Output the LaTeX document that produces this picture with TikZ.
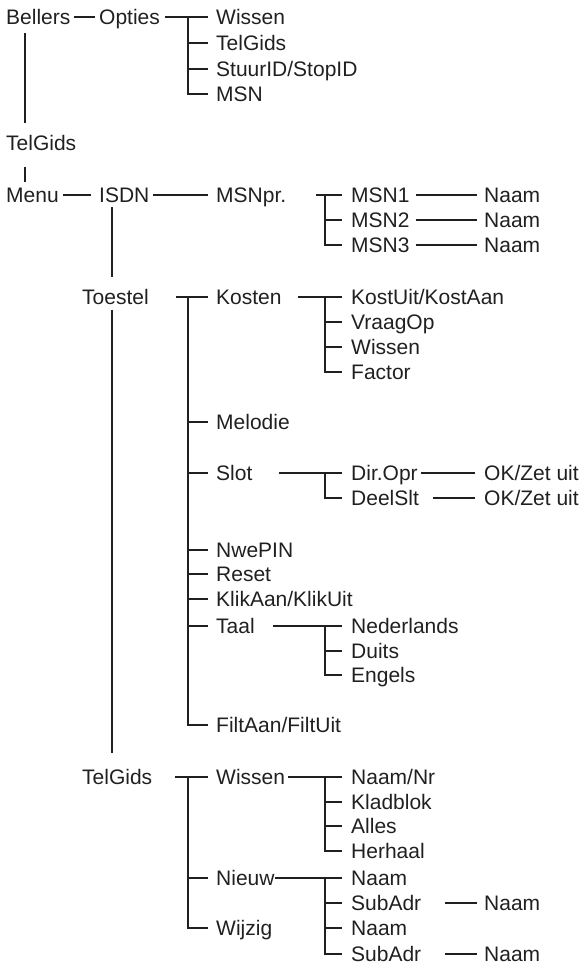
\documentclass[tikz,border=0pt]{standalone}
\usepackage{fontspec}
\setmainfont{Liberation Sans}
\definecolor{inkt}{HTML}{202020}
\tikzset{
  item/.style={anchor=west, inner sep=0pt, text height=15pt, text depth=0pt, text=inkt},
  lijn/.style={draw=inkt, line width=1.8pt},
  tak/.style={lijn, shorten >=8pt},
}
\begin{document}
\begin{tikzpicture}[x=1pt, y=-1pt, font=\fontsize{21}{25}\selectfont]
  \useasboundingbox (0,0) rectangle (582,970);
  % Bellers / Opties
  \node[item] (bellers) at (6,17) {Bellers};
  \node[item] (opties) at (99,17) {Opties};
  \node[item] (oWissen) at (216,17) {Wissen};
  \node[item] (oTelGids) at (216,43) {TelGids};
  \node[item] (oStuur) at (216,69) {StuurID/StopID};
  \node[item] (oMsn) at (216,94) {MSN};
  \node[item] (telGids) at (6,143) {TelGids};
  % Menu / ISDN
  \node[item] (menu) at (6,195) {Menu};
  \node[item] (isdn) at (99,195) {ISDN};
  \node[item] (msnPr) at (216,195) {MSNpr.};
  \node[item] (msn1) at (351,195) {MSN1};
  \node[item] (msn2) at (351,220) {MSN2};
  \node[item] (msn3) at (351,245) {MSN3};
  \node[item] (naam1) at (484,195) {Naam};
  \node[item] (naam2) at (484,220) {Naam};
  \node[item] (naam3) at (484,245) {Naam};
  % Toestel
  \node[item] (toestel) at (82,297) {Toestel};
  \node[item] (kosten) at (216,297) {Kosten};
  \node[item] (kostUit) at (351,297) {KostUit/KostAan};
  \node[item] (vraagOp) at (351,322) {VraagOp};
  \node[item] (kWissen) at (351,347) {Wissen};
  \node[item] (factor) at (351,372) {Factor};
  \node[item] (melodie) at (216,422) {Melodie};
  \node[item] (slot) at (216,473) {Slot};
  \node[item] (dirOpr) at (351,473) {Dir.Opr};
  \node[item] (deelSlt) at (351,498) {DeelSlt};
  \node[item] (ok1) at (484,473) {OK/Zet uit};
  \node[item] (ok2) at (484,498) {OK/Zet uit};
  \node[item] (nwePin) at (216,550) {NwePIN};
  \node[item] (reset) at (216,574) {Reset};
  \node[item] (klik) at (216,599) {KlikAan/KlikUit};
  \node[item] (taal) at (216,626) {Taal};
  \node[item] (nederlands) at (351,626) {Nederlands};
  \node[item] (duits) at (351,651) {Duits};
  \node[item] (engels) at (351,675) {Engels};
  \node[item] (filt) at (216,725) {FiltAan/FiltUit};
  % TelGids
  \node[item] (gids) at (82,777) {TelGids};
  \node[item] (gWissen) at (216,777) {Wissen};
  \node[item] (naamNr) at (351,777) {Naam/Nr};
  \node[item] (kladblok) at (351,802) {Kladblok};
  \node[item] (alles) at (351,826) {Alles};
  \node[item] (herhaal) at (351,851) {Herhaal};
  \node[item] (nieuw) at (216,878) {Nieuw};
  \node[item] (nNaam1) at (351,878) {Naam};
  \node[item] (subAdr1) at (351,903) {SubAdr};
  \node[item] (nNaam2) at (351,928) {Naam};
  \node[item] (subAdr2) at (351,954) {SubAdr};
  \node[item] (sNaam1) at (484,903) {Naam};
  \node[item] (sNaam2) at (484,954) {Naam};
  \node[item] (wijzig) at (216,928) {Wijzig};

  % verticale stammen
  \draw[lijn, shorten <=8.5pt, shorten >=12.5pt] ([xshift=19pt]bellers.south west) -- ([xshift=19pt]telGids.north west);
  \draw[lijn, shorten <=16.5pt, shorten >=5.5pt] ([xshift=19pt]telGids.south west) -- ([xshift=19pt]menu.north west);
  \draw[lijn, shorten <=4.5pt, shorten >=12.5pt] ([xshift=13pt]isdn.south west) -- ([xshift=30pt]toestel.north west);
  \draw[lijn, shorten <=5.5pt, shorten >=16.5pt] ([xshift=30pt]toestel.south west) -- ([xshift=30pt]gids.north west);

  % Opties
  \path (bellers) edge[tak, shorten <=3pt, shorten >=4pt] (opties);
  \path (opties) edge[tak, shorten <=5pt] (oWissen);
  \draw[tak] ([xshift=-28pt]oWissen.west) |- (oMsn);
  \path ([xshift=-28pt]oTelGids.west) edge[tak] (oTelGids);
  \path ([xshift=-28pt]oStuur.west) edge[tak] (oStuur);

  % ISDN
  \path (menu) edge[tak, shorten <=4pt] (isdn);
  \path (isdn) edge[tak, shorten <=3pt] (msnPr);
  \path (msnPr) edge[tak, shorten <=30pt, shorten >=9pt] (msn1);
  \draw[tak, shorten >=9pt] ([xshift=-26pt]msn1.west) |- (msn3);
  \path ([xshift=-26pt]msn2.west) edge[tak, shorten >=9pt] (msn2);
  \path (msn1) edge[tak, shorten <=6pt, shorten >=7pt] (naam1);
  \path (msn2) edge[tak, shorten <=6pt, shorten >=7pt] (naam2);
  \path (msn3) edge[tak, shorten <=6pt, shorten >=7pt] (naam3);

  % Toestel
  \path (toestel) edge[tak, shorten <=27pt] (kosten);
  \draw[tak] ([xshift=-28pt]kosten.west) |- (filt);
  \path ([xshift=-28pt]melodie.west) edge[tak] (melodie);
  \path ([xshift=-28pt]slot.west) edge[tak] (slot);
  \path ([xshift=-28pt]nwePin.west) edge[tak] (nwePin);
  \path ([xshift=-28pt]reset.west) edge[tak] (reset);
  \path ([xshift=-28pt]klik.west) edge[tak] (klik);
  \path ([xshift=-28pt]taal.west) edge[tak] (taal);

  \path (kosten) edge[tak, shorten <=16pt, shorten >=9pt] (kostUit);
  \draw[tak, shorten >=9pt] ([xshift=-26pt]kostUit.west) |- (factor);
  \path ([xshift=-26pt]vraagOp.west) edge[tak, shorten >=9pt] (vraagOp);
  \path ([xshift=-26pt]kWissen.west) edge[tak, shorten >=9pt] (kWissen);

  \path (slot) edge[tak, shorten <=26pt, shorten >=9pt] (dirOpr);
  \draw[tak, shorten >=9pt] ([xshift=-26pt]dirOpr.west) |- (deelSlt);
  \path (dirOpr) edge[tak, shorten <=3pt, shorten >=9pt] (ok1);
  \path (deelSlt) edge[tak, shorten <=14pt, shorten >=9pt] (ok2);

  \path (taal) edge[tak, shorten <=18pt, shorten >=9pt] (nederlands);
  \draw[tak, shorten >=9pt] ([xshift=-26pt]nederlands.west) |- (engels);
  \path ([xshift=-26pt]duits.west) edge[tak, shorten >=9pt] (duits);

  % TelGids
  \path (gids) edge[tak, shorten <=23pt] (gWissen);
  \draw[tak] ([xshift=-28pt]gWissen.west) |- (wijzig);
  \path ([xshift=-28pt]nieuw.west) edge[tak] (nieuw);

  \path (gWissen) edge[tak, shorten <=3pt, shorten >=9pt] (naamNr);
  \draw[tak, shorten >=9pt] ([xshift=-26pt]naamNr.west) |- (herhaal);
  \path ([xshift=-26pt]kladblok.west) edge[tak, shorten >=9pt] (kladblok);
  \path ([xshift=-26pt]alles.west) edge[tak, shorten >=9pt] (alles);

  \path (nieuw) edge[tak, shorten <=0pt, shorten >=9pt] (nNaam1);
  \draw[tak, shorten >=9pt] ([xshift=-26pt]nNaam1.west) |- (subAdr2);
  \path ([xshift=-26pt]subAdr1.west) edge[tak, shorten >=9pt] (subAdr1);
  \path ([xshift=-26pt]nNaam2.west) edge[tak, shorten >=9pt] (nNaam2);
  \path (subAdr1) edge[tak, shorten <=24pt, shorten >=7pt] (sNaam1);
  \path (subAdr2) edge[tak, shorten <=24pt, shorten >=7pt] (sNaam2);
\end{tikzpicture}
\end{document}
